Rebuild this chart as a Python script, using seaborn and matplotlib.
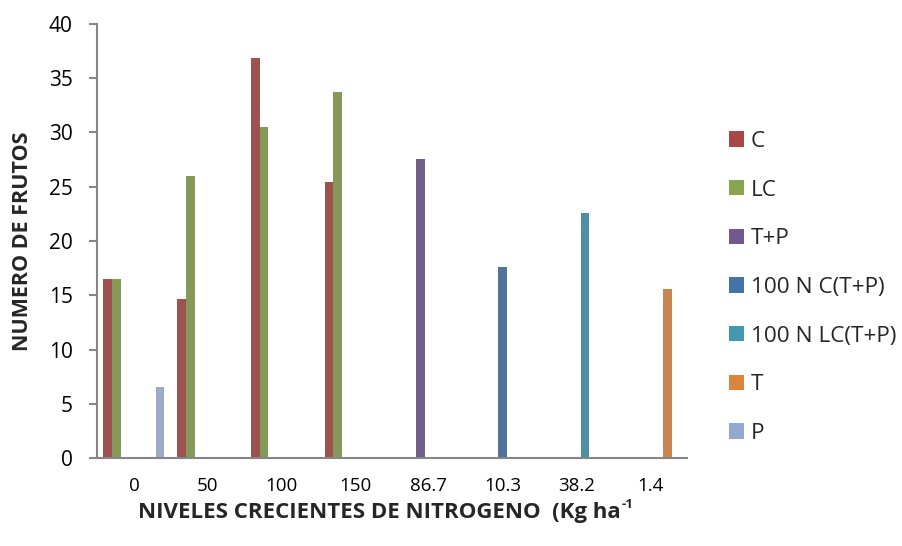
import numpy as np
import pandas as pd
import matplotlib
matplotlib.use("Agg")
import matplotlib.pyplot as plt
import seaborn as sns
from matplotlib.patches import Patch

nan = np.nan

# Nitrogen levels (x categories)
categories = ["0", "50", "100", "150", "86.7", "10.3", "38.2", "1.4"]

# Number of fruits per treatment
c_vals   = [16.5, 14.7, 36.9, 25.4, nan, nan, nan, nan]
lc_vals  = [16.5, 26.0, 30.5, 33.7, nan, nan, nan, nan]
tp_vals  = [nan, nan, nan, nan, 27.6, nan, nan, nan]
nc_vals  = [nan, nan, nan, nan, nan, 17.6, nan, nan]
nlc_vals = [nan, nan, nan, nan, nan, nan, 22.6, nan]
t_vals   = [nan, nan, nan, nan, nan, nan, nan, 15.6]
p_vals   = [6.5, nan, nan, nan, nan, nan, nan, nan]

series_names = ["C", "LC", "T+P", "100 N C(T+P)", "100 N LC(T+P)", "T", "P"]
series_vals = [c_vals, lc_vals, tp_vals, nc_vals, nlc_vals, t_vals, p_vals]
colors = ["#AA4643", "#89A54E", "#71588F", "#4572A7", "#4198AF", "#DB843D", "#93A9CF"]

rows = []
for name, vals in zip(series_names, series_vals):
    for cat, v in zip(categories, vals):
        if not np.isnan(v):
            rows.append({"nivel": cat, "tratamiento": name, "frutos": v})
df = pd.DataFrame(rows)

sns.set_style("white")
plt.rcParams["font.family"] = ["Open Sans", "DejaVu Sans"]

fig = plt.figure(figsize=(9.02, 5.46), dpi=100)
ax = fig.add_axes([97 / 902, 1 - 458 / 546, (687 - 97) / 902, (458 - 24) / 546])

sns.barplot(
    data=df, x="nivel", y="frutos", hue="tratamiento",
    order=categories, hue_order=series_names, palette=colors,
    width=0.83, dodge=True, linewidth=0, errorbar=None,
    legend=False, ax=ax,
)

ax.set_ylim(0, 40)
ax.set_yticks(np.arange(0, 41, 5))
ax.set_xlim(-0.5, len(categories) - 0.5)

axis_grey = "#868686"
for side in ["top", "right"]:
    ax.spines[side].set_visible(False)
for side in ["left", "bottom"]:
    ax.spines[side].set_color(axis_grey)
    ax.spines[side].set_linewidth(1.5)

ax.tick_params(axis="y", direction="out", length=6, width=1.5, color=axis_grey,
               labelsize=15, pad=11.5, left=True)
ax.tick_params(axis="x", length=0, labelsize=13.5, pad=13.5)
for lbl in ax.get_xticklabels() + ax.get_yticklabels():
    lbl.set_color("black")

ax.set_ylabel("NUMERO DE FRUTOS", fontsize=15.5, fontweight="bold")
ax.yaxis.set_label_coords((33 - 97) / 590, 0.5)
ax.set_xlabel("NIVELES CRECIENTES DE NITROGENO  (Kg ha",
              fontsize=16, fontweight="bold")
ax.xaxis.set_label_coords(0.478, (458 - 502) / 434)

# superscript exponent after the unit
fig.canvas.draw()
renderer = fig.canvas.get_renderer()
bb = ax.xaxis.label.get_window_extent(renderer)
fig.text(bb.x1 + 1, bb.y1 + 4, "-1", fontsize=9.5, fontweight="bold",
         ha="left", va="top", transform=None)

handles = [Patch(facecolor=c, edgecolor="none", label=n) for n, c in zip(series_names, colors)]
fig.legend(
    handles=handles, loc="center left", bbox_to_anchor=(729 / 902, 1 - 287.5 / 546),
    frameon=False, fontsize=16.2, handlelength=0.67, handleheight=0.67,
    handletextpad=0.3, labelspacing=1.23, borderaxespad=0, borderpad=0,
)

fig.savefig("out.png", dpi=100)
